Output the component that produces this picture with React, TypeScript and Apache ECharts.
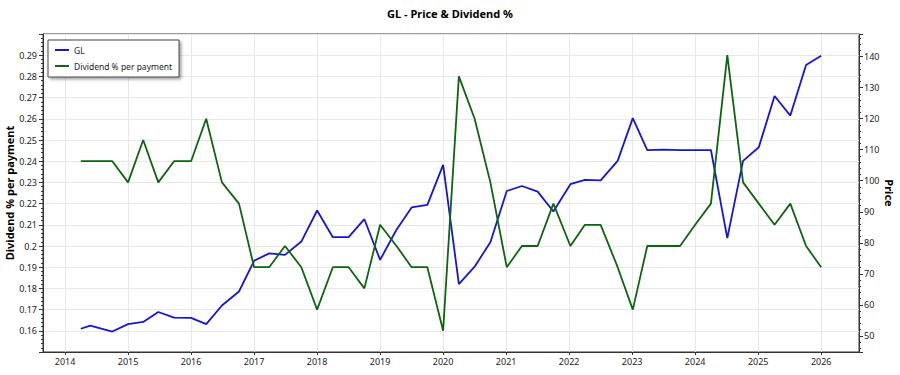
import React, { useEffect, useRef } from "react";
import * as echarts from "echarts";

// Payment dates as decimal years
const dates: number[] = [
  2014.25, 2014.4, 2014.75,
  2015.0, 2015.24, 2015.48, 2015.73,
  2016.0, 2016.24, 2016.49, 2016.76,
  2017.0, 2017.24, 2017.49, 2017.75,
  2018.0, 2018.25, 2018.5, 2018.75,
  2019.0, 2019.26, 2019.5, 2019.75,
  2020.0, 2020.25, 2020.5, 2020.75,
  2021.01, 2021.25, 2021.5, 2021.75,
  2022.02, 2022.25, 2022.5, 2022.77,
  2023.01, 2023.24, 2023.5, 2023.76,
  2024.0, 2024.25, 2024.51, 2024.76,
  2025.01, 2025.26, 2025.51, 2025.76,
  2026.0,
];

const price: number[] = [
  52.3, 53.3, 51.4,
  53.8, 54.5, 57.7, 55.9,
  55.8, 53.8, 59.8, 64.3,
  74.2, 76.6, 76.1, 80.4,
  90.4, 81.8, 81.8, 87.6,
  74.5, 84.2, 91.4, 92.2,
  105.1, 66.7, 72.3, 80.2,
  96.7, 98.3, 96.5, 90.1,
  98.9, 100.3, 100.1, 106.4,
  120.2, 109.9, 110.0, 109.9,
  109.9, 109.9, 81.5, 106.4,
  110.8, 127.3, 121.0, 137.3,
  140.3,
];

const dividendPct: number[] = [
  0.24, 0.24, 0.24,
  0.23, 0.25, 0.23, 0.24,
  0.24, 0.26, 0.23, 0.22,
  0.19, 0.19, 0.2, 0.19,
  0.17, 0.19, 0.19, 0.18,
  0.21, 0.2, 0.19, 0.19,
  0.16, 0.28, 0.26, 0.23,
  0.19, 0.2, 0.2, 0.22,
  0.2, 0.21, 0.21, 0.19,
  0.17, 0.2, 0.2, 0.2,
  0.21, 0.22, 0.29, 0.23,
  0.22, 0.21, 0.22, 0.2,
  0.19,
];

const FONT = "Noto Sans";
const AXIS_COLOR = "#333";
const GRID_COLOR = "#e8e8e8";

export default function App() {
  const ref = useRef<HTMLDivElement>(null);

  useEffect(() => {
    if (!ref.current) return;
    const chart = echarts.init(ref.current, undefined, { renderer: "svg" });
    chart.setOption({
      animation: false,
      backgroundColor: "#ffffff",
      textStyle: { fontFamily: FONT },
      title: {
        text: "GL - Price & Dividend %",
        left: "center",
        top: 3,
        textStyle: { fontFamily: FONT, fontSize: 11, fontWeight: "bold", color: "#000" },
      },
      legend: {
        orient: "vertical",
        left: 48,
        top: 40,
        backgroundColor: "#fff",
        borderColor: "#444",
        borderWidth: 1,
        padding: [4, 7, 5, 7],
        itemGap: 4,
        itemWidth: 14,
        itemHeight: 2,
        icon: "rect",
        shadowBlur: 3,
        shadowOffsetX: 2,
        shadowOffsetY: 2,
        shadowColor: "rgba(0,0,0,0.35)",
        textStyle: { fontFamily: FONT, fontSize: 8.5, color: "#222", lineHeight: 12 },
        data: ["GL", "Dividend % per payment"],
      },
      grid: {
        left: 43,
        right: 41,
        top: 34,
        bottom: 23,
        show: true,
        borderColor: AXIS_COLOR,
        borderWidth: 1,
        containLabel: false,
        outerBoundsMode: "none",
      },
      xAxis: {
        type: "value",
        min: 2013.65,
        max: 2026.6,
        splitNumber: 13,
        axisLine: { show: true, lineStyle: { color: AXIS_COLOR } },
        axisTick: { show: true, length: 3, lineStyle: { color: AXIS_COLOR } },
        axisLabel: {
          showMinLabel: false,
          showMaxLabel: false,
          margin: 5,
          fontFamily: FONT,
          fontSize: 9,
          color: "#222",
          formatter: (v: number) => String(Math.round(v)),
        },
        splitLine: { show: true, lineStyle: { color: GRID_COLOR, width: 1 } },
      },
      yAxis: [
        {
          type: "value",
          position: "left",
          min: 0.15,
          max: 0.3,
          interval: 0.01,
          name: "Dividend % per payment",
          nameLocation: "middle",
          nameRotate: 90,
          nameGap: 28,
          nameMoveOverlap: false,
          nameTextStyle: { fontFamily: FONT, fontSize: 11, fontWeight: "bold", color: "#000" },
          axisLine: { show: true, lineStyle: { color: AXIS_COLOR } },
          axisTick: { show: true, length: 4, lineStyle: { color: AXIS_COLOR } },
          minorTick: { show: true, splitNumber: 5, length: 2, lineStyle: { color: AXIS_COLOR } },
          axisLabel: {
            showMinLabel: false,
            showMaxLabel: false,
            margin: 6,
            fontFamily: FONT,
            fontSize: 9,
            color: "#222",
            formatter: (v: number) => String(Math.round(v * 100) / 100),
          },
          splitLine: { show: true, lineStyle: { color: GRID_COLOR, width: 1 } },
        },
        {
          type: "value",
          position: "right",
          min: 44.8,
          max: 147.3,
          splitNumber: 10,
          name: "Price",
          nameLocation: "middle",
          nameRotate: -90,
          nameGap: 25,
          nameMoveOverlap: false,
          nameTextStyle: { fontFamily: FONT, fontSize: 11, fontWeight: "bold", color: "#000" },
          axisLine: { show: true, lineStyle: { color: AXIS_COLOR } },
          axisTick: { show: true, length: 4, lineStyle: { color: AXIS_COLOR } },
          minorTick: { show: true, splitNumber: 5, length: 2, lineStyle: { color: AXIS_COLOR } },
          axisLabel: {
            showMinLabel: false,
            showMaxLabel: false,
            margin: 5,
            fontFamily: FONT,
            fontSize: 9,
            color: "#222",
            formatter: (v: number) => String(Math.round(v)),
          },
          splitLine: { show: false },
        },
      ],
      series: [
        {
          name: "GL",
          type: "line",
          yAxisIndex: 1,
          symbol: "none",
          color: "#1515d6",
          lineStyle: { color: "#1515d6", width: 1.8 },
          data: dates.map((d, i) => [d, price[i]]),
        },
        {
          name: "Dividend % per payment",
          type: "line",
          yAxisIndex: 0,
          symbol: "none",
          color: "#0d650d",
          lineStyle: { color: "#0d650d", width: 1.8 },
          data: dates.map((d, i) => [d, dividendPct[i]]),
        },
      ],
    });
    return () => chart.dispose();
  }, []);

  return (
    <div
      ref={ref}
      style={{ position: "absolute", left: 0, top: 0, width: 900, height: 375 }}
    />
  );
}
